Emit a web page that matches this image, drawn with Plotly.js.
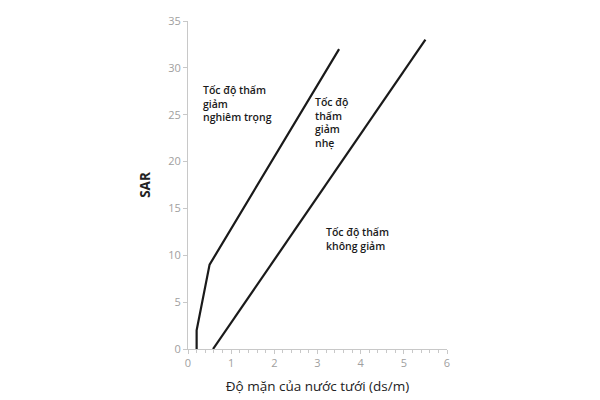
<!DOCTYPE html>
<html>
<head>
<meta charset="utf-8">
<script src="https://cdn.plot.ly/plotly-3.0.1.min.js"></script>
<style>html,body{margin:0;padding:0;background:#fff;}#chart{width:600px;height:400px;}</style>
</head>
<body>
<div id="chart"></div>
<script>
// Đường ranh giới: giảm nghiêm trọng / giảm nhẹ
const severeX = [0.2, 0.2, 0.5, 3.5];
const severeY = [0, 2, 9, 32];
// Đường ranh giới: giảm nhẹ / không giảm
const slightX = [0.58, 5.5];
const slightY = [0, 33];

const xTickVals = [0, 1, 2, 3, 4, 5, 6];
const yTickVals = [0, 5, 10, 15, 20, 25, 30, 35];

const labelSevere = "Tốc độ thấm<br>giảm<br>nghiêm trọng";
const labelSlight = "Tốc độ<br>thấm<br>giảm<br>nhẹ";
const labelNone = "Tốc độ thấm<br>không giảm";
const xTitle = "Độ mặn của nước tưới (ds/m)";
const yTitle = "SAR";

const lineStyle = {color: '#1a1a1a', width: 2.2};
const traces = [
  {x: severeX, y: severeY, mode: 'lines', line: lineStyle, hoverinfo: 'skip'},
  {x: slightX, y: slightY, mode: 'lines', line: lineStyle, hoverinfo: 'skip'}
];

const annFont = {family: 'Open Sans, sans-serif', size: 10.5, color: '#1a1a1a', weight: 600};
const layout = {
  width: 600, height: 400,
  margin: {l: 188, r: 153, t: 21, b: 51},
  paper_bgcolor: '#fff', plot_bgcolor: '#fff',
  showlegend: false,
  font: {family: 'Open Sans, sans-serif'},
  xaxis: {
    range: [0, 6], tickvals: xTickVals, ticktext: xTickVals.map(String),
    showgrid: false, zeroline: false, showline: true, linecolor: '#c8c8c8', linewidth: 1,
    ticks: 'outside', ticklen: 4, tickcolor: '#c8c8c8',
    minor: {dtick: 0.2, ticks: 'outside', ticklen: 3, tickcolor: '#c8c8c8', showgrid: false},
    tickfont: {size: 11, color: '#a0a0a0', family: 'Open Sans, sans-serif'},
    title: {text: xTitle, standoff: 12, font: {size: 13.5, color: '#222', family: 'Open Sans, sans-serif', weight: 500}}
  },
  yaxis: {
    range: [0, 35], tickvals: yTickVals, ticktext: yTickVals.map(String),
    showgrid: false, zeroline: false, showline: true, linecolor: '#c8c8c8', linewidth: 1,
    ticks: 'outside', ticklen: 4, tickcolor: '#c8c8c8',
    tickfont: {size: 11, color: '#a0a0a0', family: 'Open Sans, sans-serif'},
    title: {text: yTitle, standoff: 14, font: {size: 13.5, color: '#222', family: 'Open Sans, sans-serif', weight: 700}}
  },
  annotations: [
    {x: 0.29, y: 28.6, xref: 'x', yref: 'y', text: labelSevere, showarrow: false, xanchor: 'left', yanchor: 'top', align: 'left', font: annFont},
    {x: 2.9, y: 27.3, xref: 'x', yref: 'y', text: labelSlight, showarrow: false, xanchor: 'left', yanchor: 'top', align: 'left', font: annFont},
    {x: 3.15, y: 13.4, xref: 'x', yref: 'y', text: labelNone, showarrow: false, xanchor: 'left', yanchor: 'top', align: 'left', font: annFont}
  ]
};

Plotly.newPlot('chart', traces, layout, {displayModeBar: false, staticPlot: true});
</script>
</body>
</html>
